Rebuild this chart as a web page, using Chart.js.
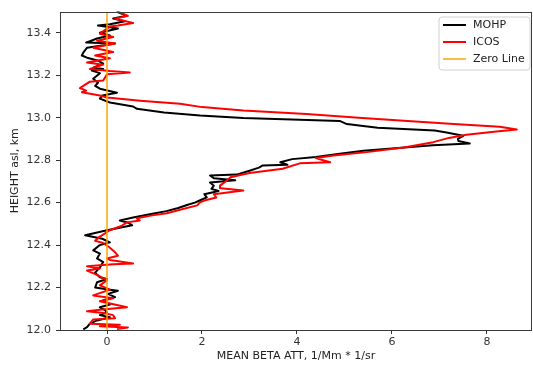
<!DOCTYPE html>
<html>
<head>
<meta charset="utf-8">
<script src="https://cdn.jsdelivr.net/npm/chart.js@4/dist/chart.umd.min.js"></script>
<style>
  html, body { margin: 0; padding: 0; background: #fff; }
  #wrap { width: 533px; height: 365px; position: relative; }
</style>
</head>
<body>
<div id="wrap"><canvas id="c" width="533" height="365"></canvas></div>
<script>
// ---- Data ----
const seriesNames = ['MOHP', 'ICOS', 'Zero Line'];

const mohpHeight = [12.003,12.013,12.03,12.045,12.06,12.07,12.083,12.095,12.107,12.12,12.14,12.155,12.17,12.185,12.19,12.2,12.225,12.24,12.248,12.27,12.295,12.32,12.337,12.36,12.375,12.4,12.413,12.43,12.446,12.47,12.493,12.505,12.516,12.53,12.545,12.56,12.575,12.59,12.6,12.61,12.625,12.64,12.655,12.665,12.68,12.695,12.705,12.715,12.728,12.732,12.75,12.765,12.775,12.778,12.79,12.805,12.815,12.83,12.845,12.87,12.879,12.89,12.9,12.915,12.93,12.94,12.953,12.97,12.985,12.999,13.01,13.025,13.042,13.053,13.072,13.09,13.105,13.118,13.137,13.15,13.165,13.184,13.21,13.222,13.23,13.236,13.255,13.27,13.283,13.293,13.307,13.33,13.35,13.354,13.373,13.387,13.4,13.42,13.434,13.44,13.455,13.467,13.48,13.5];
const mohpBeta = [-0.5,-0.42,-0.36,-0.21,0.06,-0.15,0.0,-0.05,-0.15,0.06,-0.08,0.17,0.02,0.23,0.06,-0.25,-0.21,0.0,-0.15,-0.25,-0.15,-0.08,-0.21,-0.15,-0.29,-0.15,0.06,-0.1,-0.46,0.0,0.53,0.45,0.27,0.55,0.9,1.25,1.5,1.7,1.85,1.95,2.1,2.05,2.35,2.2,2.25,2.17,2.7,2.25,2.17,2.73,3.0,3.2,3.28,3.8,3.65,3.9,4.4,4.9,5.4,6.86,7.64,7.4,7.39,7.5,7.15,6.9,5.7,5.05,4.9,2.87,1.96,1.2,0.63,0.55,0.06,-0.15,-0.1,0.21,-0.15,-0.25,-0.19,-0.29,-0.15,-0.32,-0.08,-0.29,-0.08,-0.2,-0.42,-0.53,-0.5,-0.42,0.17,-0.44,-0.21,0.06,-0.15,0.23,-0.19,0.06,0.38,0.13,0.42,0.2];

const icosHeight = [12.005,12.012,12.018,12.025,12.03,12.05,12.055,12.07,12.08,12.088,12.095,12.107,12.135,12.15,12.163,12.19,12.21,12.235,12.26,12.28,12.29,12.3,12.31,12.313,12.33,12.337,12.35,12.366,12.39,12.41,12.42,12.44,12.47,12.49,12.507,12.516,12.526,12.54,12.55,12.57,12.587,12.6,12.61,12.624,12.64,12.657,12.668,12.68,12.7,12.72,12.74,12.76,12.785,12.79,12.8,12.81,12.822,12.838,12.86,12.885,12.905,12.92,12.935,12.945,12.957,12.97,12.987,13.0,13.018,13.034,13.05,13.066,13.08,13.095,13.105,13.12,13.128,13.14,13.15,13.17,13.175,13.205,13.213,13.22,13.23,13.25,13.26,13.28,13.293,13.31,13.33,13.35,13.363,13.38,13.396,13.43,13.434,13.446,13.467,13.48,13.5];
const icosBeta = [0.21,0.44,-0.15,0.27,-0.36,-0.29,0.17,0.13,-0.08,-0.42,-0.15,0.42,-0.15,0.13,-0.29,0.06,-0.15,0.0,-0.21,-0.42,-0.15,-0.42,0.13,0.55,0.06,0.0,0.23,0.17,0.05,-0.08,-0.25,-0.15,0.06,0.3,0.42,0.69,0.63,0.95,1.26,1.6,1.9,1.95,2.05,2.3,2.25,2.87,2.4,2.38,2.5,2.6,3.0,3.7,4.06,4.7,4.55,4.4,4.77,5.47,6.25,6.87,7.2,7.57,8.2,8.63,8.27,7.3,6.17,5.3,4.2,2.87,2.0,1.54,0.7,0.0,-0.15,-0.53,-0.44,-0.57,-0.5,-0.36,-0.08,0.0,0.48,0.06,-0.36,-0.08,-0.42,0.06,-0.25,0.13,-0.29,0.17,-0.21,0.13,-0.15,0.06,0.23,0.55,0.17,0.44,0.23];

const zeroLineBeta = [0, 0];
const zeroLineHeight = [12.0, 13.5];

const xTicks = [0, 2, 4, 6, 8];
const yTicks = [12.0, 12.2, 12.4, 12.6, 12.8, 13.0, 13.2, 13.4];
const xRange = [-0.99, 8.95];
const yRange = [12.0, 13.5];
const xTitle = 'MEAN BETA ATT, 1/Mm * 1/sr';
const yTitle = 'HEIGHT asl, km';

// ---- Build chart ----
const toPts = (xs, ys) => xs.map((v, i) => ({x: v, y: ys[i]}));
const FONT = 'DejaVu Sans';
const colors = ['#000000', '#ff0000', '#ffa500'];
const widths = [2, 2, 1.5];

const framePlugin = {
  id: 'frame',
  afterDatasetsDraw(chart) {
    const {ctx, chartArea: a} = chart;
    ctx.save();
    ctx.strokeStyle = '#3a3a3a';
    ctx.lineWidth = 1;
    ctx.strokeRect(Math.round(a.left) + 0.5, Math.round(a.top) + 0.5,
                   Math.round(a.right - a.left) - 1, Math.round(a.bottom - a.top));
    // legend
    const bx = 439, by = 17, bw = 91, bh = 53, r = 3;
    ctx.fillStyle = 'rgba(255,255,255,0.85)';
    ctx.strokeStyle = '#d0d0d0';
    ctx.beginPath();
    ctx.moveTo(bx + r, by);
    ctx.lineTo(bx + bw - r, by); ctx.quadraticCurveTo(bx + bw, by, bx + bw, by + r);
    ctx.lineTo(bx + bw, by + bh - r); ctx.quadraticCurveTo(bx + bw, by + bh, bx + bw - r, by + bh);
    ctx.lineTo(bx + r, by + bh); ctx.quadraticCurveTo(bx, by + bh, bx, by + bh - r);
    ctx.lineTo(bx, by + r); ctx.quadraticCurveTo(bx, by, bx + r, by);
    ctx.closePath();
    ctx.fill(); ctx.stroke();
    ctx.font = '11px "' + FONT + '"';
    ctx.textBaseline = 'middle';
    ctx.textAlign = 'left';
    seriesNames.forEach((name, i) => {
      const y = 25 + i * 17;
      ctx.strokeStyle = colors[i];
      ctx.lineWidth = widths[i];
      ctx.beginPath(); ctx.moveTo(443, y); ctx.lineTo(466, y); ctx.stroke();
      ctx.fillStyle = '#222';
      ctx.fillText(name, 473, y);
    });
    ctx.restore();
  }
};

new Chart(document.getElementById('c'), {
  type: 'scatter',
  data: {
    datasets: [
      { label: seriesNames[2], data: toPts(zeroLineBeta, zeroLineHeight), showLine: true,
        borderColor: colors[2], borderWidth: widths[2], pointRadius: 0, order: 0 },
      { label: seriesNames[1], data: toPts(icosBeta, icosHeight), showLine: true,
        borderColor: colors[1], borderWidth: widths[1], pointRadius: 0, order: 1 },
      { label: seriesNames[0], data: toPts(mohpBeta, mohpHeight), showLine: true,
        borderColor: colors[0], borderWidth: widths[0], pointRadius: 0, order: 2 }
    ]
  },
  options: {
    responsive: false,
    animation: false,
    layout: { padding: { top: 11, left: 0, right: 1, bottom: 0 } },
    plugins: { legend: { display: false }, tooltip: { enabled: false } },
    elements: { line: { tension: 0, borderJoinStyle: 'round' } },
    scales: {
      x: {
        type: 'linear', min: xRange[0], max: xRange[1],
        afterBuildTicks: s => { s.ticks = xTicks.map(v => ({value: v})); },
        afterFit: s => { s.height = 35; },
        ticks: { font: { family: FONT, size: 11 }, color: '#333', padding: 2,
                 callback: v => String(v), maxRotation: 0 },
        grid: { drawOnChartArea: false, drawTicks: true, tickLength: 4, tickColor: '#333' },
        border: { display: false },
        title: { display: true, text: xTitle, font: { family: FONT, size: 11 }, color: '#222',
                 padding: { top: 0, bottom: 2.4 } }
      },
      y: {
        type: 'linear', min: yRange[0], max: yRange[1],
        afterBuildTicks: s => { s.ticks = yTicks.map(v => ({value: v})); },
        afterFit: s => { s.width = 60; },
        ticks: { font: { family: FONT, size: 11 }, color: '#333', padding: 5,
                 callback: v => Number(v).toFixed(1) },
        grid: { drawOnChartArea: false, drawTicks: true, tickLength: 4, tickColor: '#333' },
        border: { display: false },
        title: { display: true, text: yTitle, font: { family: FONT, size: 11 }, color: '#222',
                 padding: { top: 9, bottom: 0 } }
      }
    }
  },
  plugins: [framePlugin]
});
</script>
</body>
</html>
